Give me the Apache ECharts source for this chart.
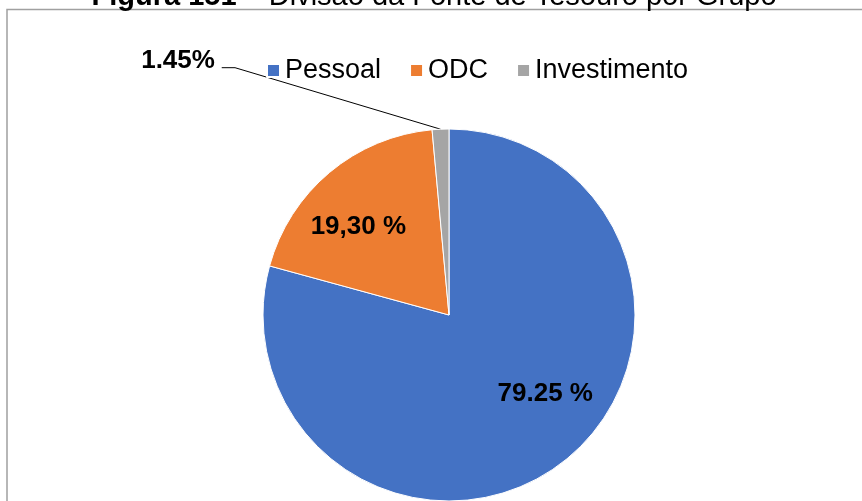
<!DOCTYPE html>
<html>
<head>
<meta charset="utf-8">
<script src="https://cdn.jsdelivr.net/npm/echarts@6/dist/echarts.min.js"></script>
<style>
  html, body { margin: 0; padding: 0; background: #fff; }
  #chart { width: 862px; height: 501px; }
</style>
</head>
<body>
<div id="chart"></div>
<script>
// Budget share by expense group (percent of the treasury source)
const categories = ['Pessoal', 'ODC', 'Investimento'];
const shares = [79.25, 19.30, 1.45];
// how each share label is written
const decimalMarks = ['.', ',', '.'];
const percentSpacing = [' ', ' ', ''];
const sliceColors = ['#4472C4', '#ED7D31', '#A5A5A5'];

const FONT = '"Liberation Sans", Arial, Helvetica, sans-serif';

function shareLabel(i) {
  return shares[i].toFixed(2).replace('.', decimalMarks[i]) + percentSpacing[i] + '%';
}

// nudges for the labels drawn inside their slices
const insideShift = [[38, 3], [-29, -15]];
// callout for the small slice: label and elbow relative to the slice edge
const calloutLabel = [-262.5, -68.7];
const calloutElbow = [[-205.5, -61.5], [-218.8, -61.5]];

const chart = echarts.init(document.getElementById('chart'), null, { renderer: 'canvas' });

const option = {
  backgroundColor: '#fff',
  animation: false,
  color: sliceColors,
  graphic: [
    {
      type: 'rect',
      silent: true,
      z: -10,
      shape: { x: 7, y: 9.5, width: 900, height: 600 },
      style: { fill: 'none', stroke: '#a0a0a0', lineWidth: 1.5 }
    },
    {
      type: 'text',
      silent: true,
      x: 434,
      y: -3.5,
      style: {
        text: '{b|Figura 151} – Divisão da Fonte de Tesouro por Grupo',
        fontSize: 29,
        fontFamily: FONT,
        fill: '#000',
        align: 'center',
        verticalAlign: 'middle',
        rich: {
          b: { fontSize: 29, fontFamily: FONT, fontWeight: 'bold', fill: '#000' }
        }
      }
    }
  ],
  legend: {
    data: categories,
    left: 266,
    top: 57,
    padding: 0,
    icon: 'rect',
    itemWidth: 13,
    itemHeight: 13,
    itemGap: 28,
    selectedMode: false,
    textStyle: { fontSize: 27, fontFamily: FONT, color: '#000' }
  },
  series: [{
    type: 'pie',
    center: [449, 315],
    radius: 186,
    startAngle: 90,
    clockwise: true,
    avoidLabelOverlap: false,
    itemStyle: { borderColor: '#fff', borderWidth: 1 },
    label: {
      show: true,
      formatter: p => shareLabel(p.dataIndex),
      fontSize: 26,
      fontWeight: 'bold',
      fontFamily: FONT,
      color: '#000'
    },
    labelLine: {
      show: true,
      length: 20,
      length2: 10,
      lineStyle: { color: '#000', width: 1 }
    },
    labelLayout: function (p) {
      const i = p.dataIndex;
      if (i < insideShift.length) {
        return { dx: insideShift[i][0], dy: insideShift[i][1] };
      }
      const a = p.labelLinePoints[0];
      return {
        x: a[0] + calloutLabel[0],
        y: a[1] + calloutLabel[1],
        align: 'center',
        verticalAlign: 'middle',
        labelLinePoints: [
          [a[0], a[1]],
          [a[0] + calloutElbow[0][0], a[1] + calloutElbow[0][1]],
          [a[0] + calloutElbow[1][0], a[1] + calloutElbow[1][1]]
        ]
      };
    },
    emphasis: { disabled: true },
    data: categories.map((name, i) => ({
      name: name,
      value: shares[i],
      label: { position: i < insideShift.length ? 'inside' : 'outside' }
    }))
  }]
};

chart.setOption(option);
</script>
</body>
</html>
